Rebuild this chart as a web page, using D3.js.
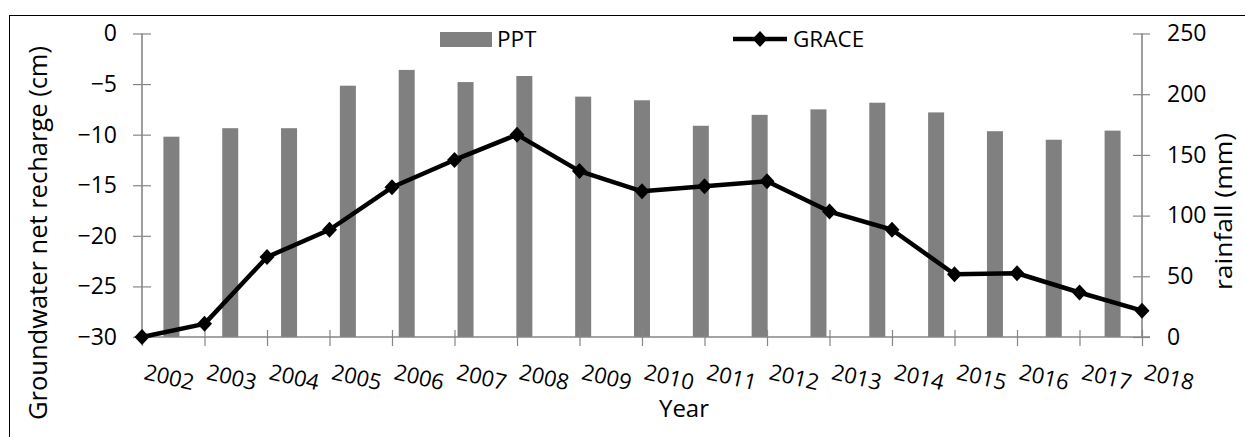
<!DOCTYPE html>
<html>
<head>
<meta charset="utf-8">
<script src="https://cdn.jsdelivr.net/npm/d3@7"></script>
<style>
  html, body { margin: 0; padding: 0; background: #fff; }
  svg { display: block; font-family: "Open Sans", Lato, sans-serif; }
</style>
</head>
<body>
<svg id="chart" width="1245" height="437"></svg>
<script>
const years = ["2002","2003","2004","2005","2006","2007","2008","2009","2010","2011","2012","2013","2014","2015","2016","2017","2018"];
const ppt = [165, 172, 172, 207, 220, 210, 215, 198, 195, 174, 183, 187.5, 193, 185, 169.5, 162.5, 170];
const grace = [-30, -28.7, -22.1, -19.4, -15.2, -12.5, -10.0, -13.6, -15.6, -15.1, -14.6, -17.6, -19.4, -23.8, -23.7, -25.6, -27.4];
const leftTicks = [0, -5, -10, -15, -20, -25, -30];
const rightTicks = [0, 50, 100, 150, 200, 250];

const svg = d3.select("#chart");
const L = 142, R = 1142, T = 33.5, B = 337;
const axisColor = "#868686";
const FONT = "'Open Sans', Lato, sans-serif";

// frame
svg.append("rect").attr("x", 9.5).attr("y", 15.5).attr("width", 1300).attr("height", 500)
  .attr("fill", "none").attr("stroke", "#000").attr("stroke-width", 1);

const xLine = d3.scalePoint().domain(years).range([L, R]);
const xBar = d3.scaleBand().domain(years).range([L, R]).paddingInner(0.728).paddingOuter(0.364);
const yL = d3.scaleLinear().domain([-30, 0]).range([B, T]);
const yR = d3.scaleLinear().domain([0, 250]).range([B, T]);

// bars
svg.append("g").selectAll("rect").data(years).join("rect")
  .attr("x", (d) => xBar(d))
  .attr("width", xBar.bandwidth())
  .attr("y", (d, i) => yR(ppt[i]))
  .attr("height", (d, i) => B - yR(ppt[i]))
  .attr("fill", "#808080");

// left axis
const gL = svg.append("g").attr("transform", `translate(${L},0)`)
  .call(d3.axisLeft(yL).tickValues(leftTicks).tickSize(9).tickPadding(16).tickFormat(d3.format("d")));
gL.selectAll(".tick line").attr("x2", -9).attr("x1", 9);
// right axis
const gR = svg.append("g").attr("transform", `translate(${R},0)`)
  .call(d3.axisRight(yR).tickValues(rightTicks).tickSize(9).tickPadding(16));
gR.selectAll(".tick line").attr("x1", -9).attr("x2", 8);
// bottom axis (line category axis)
const gB = svg.append("g").attr("transform", `translate(0,${B})`)
  .call(d3.axisBottom(xLine).tickSize(9).tickFormat(""));
gB.selectAll(".tick line").attr("y1", -7).attr("y2", 9);

[gL, gR, gB].forEach(g => {
  g.select(".domain").attr("stroke", axisColor).attr("stroke-width", 1.6);
  g.selectAll(".tick line").attr("stroke", axisColor).attr("stroke-width", 1.2);
  g.selectAll(".tick text").attr("font-size", 23).attr("fill", "#000").attr("font-family", FONT);
});
gL.select(".domain").attr("d", `M0,${T}V${B}`);
gR.select(".domain").attr("d", `M0,${T}V${B}`);
gB.select(".domain").attr("d", `M${L - 8},0H${R + 8}`);

// x tick labels, rotated
svg.append("g").selectAll("text").data(years).join("text")
  .attr("transform", d => `translate(${xLine(d) + 1},${379}) rotate(13)`)
  .attr("font-size", 22)
  .attr("fill", "#000")
  .text(d => d);

// line
const line = d3.line().x((d, i) => xLine(years[i])).y(d => yL(d));
svg.append("path").datum(grace).attr("d", line)
  .attr("fill", "none").attr("stroke", "#000").attr("stroke-width", 4.5).attr("stroke-linejoin", "round");
const diamond = "M0,-8L7.5,0L0,8L-7.5,0Z";
svg.append("g").selectAll("path").data(grace).join("path")
  .attr("d", diamond)
  .attr("transform", (d, i) => `translate(${xLine(years[i])},${yL(d)})`)
  .attr("fill", "#000");

// titles
svg.append("text").attr("transform", "translate(47,233) rotate(-90)")
  .attr("text-anchor", "middle").attr("font-size", 25)
  .attr("textLength", 374).attr("lengthAdjust", "spacingAndGlyphs")
  .text("Groundwater net recharge (cm)");
svg.append("text").attr("transform", "translate(1232,211.5) rotate(-90)")
  .attr("text-anchor", "middle").attr("font-size", 24.5)
  .attr("textLength", 157).attr("lengthAdjust", "spacingAndGlyphs")
  .text("rainfall (mm)");
svg.append("text").attr("x", 684).attr("y", 417)
  .attr("text-anchor", "middle").attr("font-size", 24).text("Year");

// legend
svg.append("rect").attr("x", 440).attr("y", 32).attr("width", 52).attr("height", 15).attr("fill", "#808080");
svg.append("text").attr("x", 497).attr("y", 47).attr("font-size", 22.5).text("PPT");
svg.append("line").attr("x1", 733).attr("x2", 787).attr("y1", 39).attr("y2", 39)
  .attr("stroke", "#000").attr("stroke-width", 4.5);
svg.append("path").attr("d", diamond).attr("transform", "translate(760,39)").attr("fill", "#000");
svg.append("text").attr("x", 793).attr("y", 47).attr("font-size", 22.5).text("GRACE");
</script>
</body>
</html>
